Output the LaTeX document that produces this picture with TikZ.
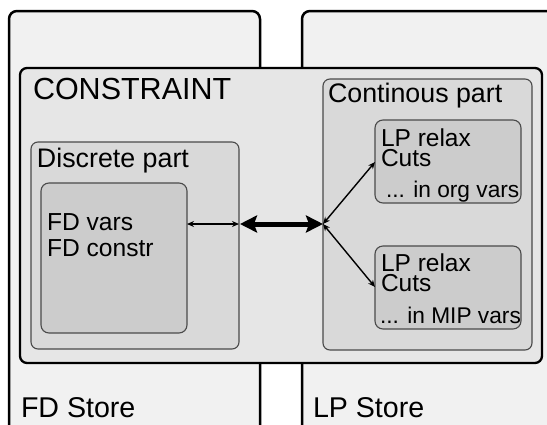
\documentclass[tikz,border=0pt]{standalone}
\usepackage{fontspec}
\setmainfont{Liberation Sans}
\usetikzlibrary{arrows.meta}
\definecolor{storefill}{HTML}{F1F1F1}
\definecolor{consfill}{HTML}{E6E6E6}
\definecolor{partfill}{HTML}{D9D9D9}
\definecolor{innerfill}{HTML}{CCCCCC}
\definecolor{partline}{HTML}{4A4A4A}
\begin{document}
\begin{tikzpicture}[x=1pt,y=-1pt,
  box/.style={rectangle,anchor=north west,inner sep=0pt,outer sep=0pt},
  storebox/.style={box,draw=black,line width=2.5pt,fill=storefill,rounded corners=8pt},
  consbox/.style={box,draw=black,line width=2.3pt,fill=consfill,rounded corners=7pt},
  partbox/.style={box,draw=partline,line width=1.1pt,fill=partfill,rounded corners=7pt},
  innerbox/.style={box,draw=partline,line width=1.1pt,fill=innerfill,rounded corners=8pt},
  lbl/.style={anchor=base west,inner sep=0pt,outer sep=0pt},
  thin/.style={line width=1.4pt,{Stealth[length=7pt,width=6pt]}-{Stealth[length=7pt,width=6pt]}},
  thick/.style={line width=5pt,{Stealth[length=17pt,width=17pt,inset=3pt]}-{Stealth[length=17pt,width=17pt,inset=3pt]}}]
\useasboundingbox (0,0) rectangle (547,424);
\clip (0,0) rectangle (547,424);
\fill[white] (0,0) rectangle (547,424);
% stores
\node[storebox,minimum width=251pt,minimum height=425pt] (fd) at (9,11) {};
\node[storebox,minimum width=260pt,minimum height=425pt] (lp) at (302,11) {};
% constraint
\node[consbox,minimum width=522pt,minimum height=295pt] (cons) at (20,68) {};
% parts
\node[partbox,minimum width=208pt,minimum height=207pt] (disc) at (31,142) {};
\node[partbox,minimum width=209pt,minimum height=271pt] (cont) at (323,79) {};
\node[innerbox,minimum width=146pt,minimum height=150pt] (fdin) at (41,183) {};
\node[innerbox,minimum width=146pt,minimum height=83pt] (lp1) at (375,120) {};
\node[innerbox,minimum width=146pt,minimum height=83pt] (lp2) at (375,246) {};
% texts
\node[lbl,font=\fontsize{30.5}{30}\selectfont] (tcons) at (33,99) {CONSTRAINT};
\node[lbl,font=\fontsize{26.8}{27}\selectfont] (tcont) at (328,102) {Continous part};
\node[lbl,font=\fontsize{26.8}{27}\selectfont] (tdisc) at (37,167) {Discrete part};
\node[lbl,font=\fontsize{24.6}{25}\selectfont] (tfd1) at (47,230) {FD vars};
\node[lbl,font=\fontsize{24.6}{25}\selectfont] (tfd2) at (47,256) {FD constr};
\node[lbl,font=\fontsize{24.5}{25}\selectfont] (ta1) at (381,146) {LP relax};
\node[lbl,font=\fontsize{24.5}{25}\selectfont] (ta2) at (381,166) {Cuts};
\node[lbl,font=\fontsize{22.7}{23}\selectfont] (ta3) at (386,197) {... in org vars};
\node[lbl,font=\fontsize{24.5}{25}\selectfont] (tb1) at (381,271) {LP relax};
\node[lbl,font=\fontsize{24.5}{25}\selectfont] (tb2) at (381,291) {Cuts};
\node[lbl,font=\fontsize{22.7}{23}\selectfont] (tb3) at (380,323) {... in MIP vars};
\node[lbl,font=\fontsize{28.6}{29}\selectfont] (tfds) at (21,417) {FD Store};
\node[lbl,font=\fontsize{28.6}{29}\selectfont] (tlps) at (313,417) {LP Store};
% connectors
\coordinate (ay) at (0,224);
\coordinate (a1) at (0,162);
\coordinate (a2) at (0,287);
\draw[thin] (fdin.east |- ay) -- (disc.east |- ay);
\draw[thick] ([xshift=1pt]disc.east |- ay) -- (cont.west |- ay);
\draw[thin] (cont.west |- ay) -- (lp1.west |- a1);
\draw[thin] (cont.west |- ay) -- (lp2.west |- a2);
\end{tikzpicture}
\end{document}
